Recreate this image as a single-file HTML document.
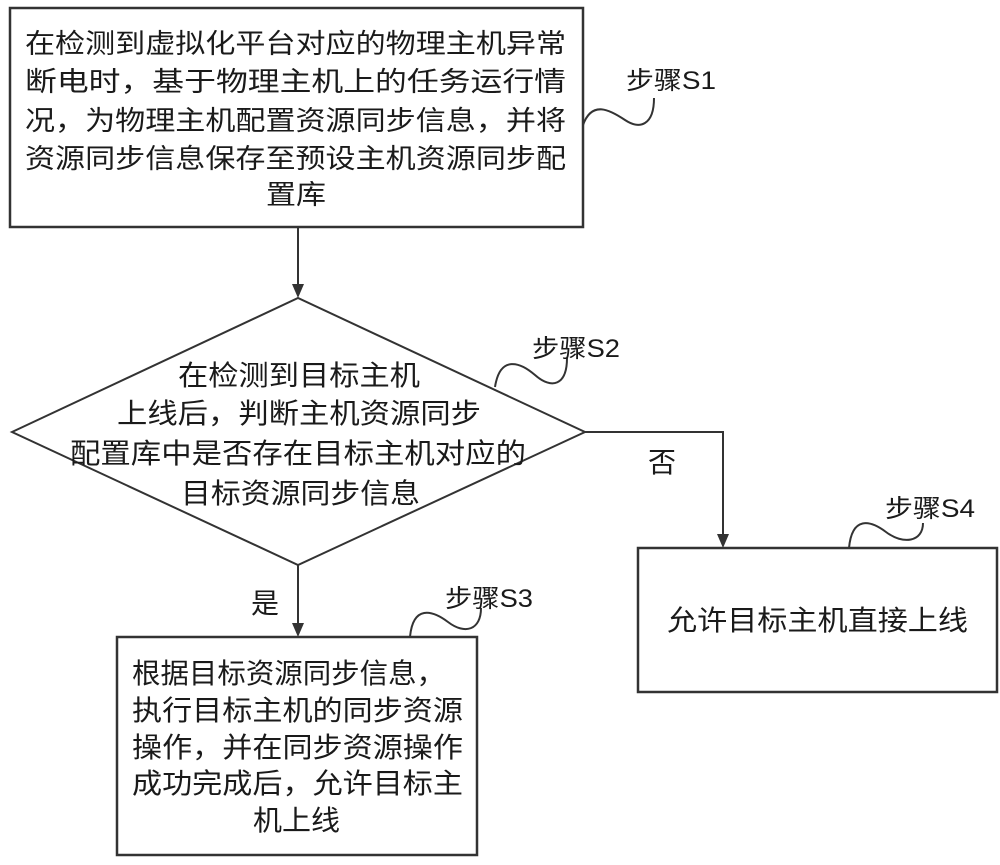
<!DOCTYPE html>
<html><head><meta charset="utf-8"><style>
html,body{margin:0;padding:0;background:#fff;}
svg{display:block;}
text{font-family:"Liberation Sans","Noto Sans CJK SC",sans-serif;fill:#1a1a1a;}
</style></head><body>
<svg width="1000" height="865" viewBox="0 0 1000 865" xmlns="http://www.w3.org/2000/svg">
<g stroke="#333" stroke-width="2" fill="none">
<rect x="10" y="8" width="573" height="219" stroke-width="2.5"/>
<line x1="298" y1="227" x2="298" y2="285"/>
<polygon points="12,432 298,298 585,432 298,565"/>
<polyline points="585,432 723,432 723,534"/>
<line x1="298" y1="565" x2="298" y2="624"/>
<rect x="117" y="637" width="360" height="218" stroke-width="2.5"/>
<rect x="638" y="548" width="359" height="144" stroke-width="2.5"/>
<path d="M583,125 C592,100 610,110 625,120 C640,130 654,125 654,98"/>
<path d="M495,387 C500,355 520,362 535,375 C552,390 567,385 567,358"/>
<path d="M410,637 C413,605 432,610 448,622 C465,635 481,630 481,608"/>
<path d="M849,548 C852,516 870,520 886,532 C903,545 923,542 923,523"/>
</g>
<g fill="#333">
<polygon points="292,284 304,284 298,298"/>
<polygon points="717,534 729,534 723,548"/>
<polygon points="292,623 304,623 298,637"/>
</g>
<g font-size="27">
<text x="25" y="53" textLength="541" lengthAdjust="spacingAndGlyphs">在检测到虚拟化平台对应的物理主机异常</text>
<text x="25" y="91" textLength="541" lengthAdjust="spacingAndGlyphs">断电时，基于物理主机上的任务运行情</text>
<text x="25" y="130" textLength="541" lengthAdjust="spacingAndGlyphs">况，为物理主机配置资源同步信息，并将</text>
<text x="25" y="168" textLength="541" lengthAdjust="spacingAndGlyphs">资源同步信息保存至预设主机资源同步配</text>
<text x="266" y="204" textLength="60" lengthAdjust="spacingAndGlyphs">置库</text>
</g>
<g font-size="28">
<text x="178" y="385" textLength="242" lengthAdjust="spacingAndGlyphs">在检测到目标主机</text>
<text x="117" y="423" textLength="364" lengthAdjust="spacingAndGlyphs">上线后，判断主机资源同步</text>
<text x="70" y="463" textLength="456" lengthAdjust="spacingAndGlyphs">配置库中是否存在目标主机对应的</text>
<text x="181" y="503" textLength="239" lengthAdjust="spacingAndGlyphs">目标资源同步信息</text>
<text x="132" y="683" textLength="313" lengthAdjust="spacingAndGlyphs">根据目标资源同步信息，</text>
<text x="132" y="720" textLength="331" lengthAdjust="spacingAndGlyphs">执行目标主机的同步资源</text>
<text x="132" y="757" textLength="331" lengthAdjust="spacingAndGlyphs">操作，并在同步资源操作</text>
<text x="132" y="793" textLength="331" lengthAdjust="spacingAndGlyphs">成功完成后，允许目标主</text>
<text x="253" y="830" textLength="87" lengthAdjust="spacingAndGlyphs">机上线</text>
<text x="667" y="630" textLength="301" lengthAdjust="spacingAndGlyphs">允许目标主机直接上线</text>
<text x="648" y="472">否</text>
<text x="251" y="613">是</text>
</g>
<g font-size="25">
<text x="626" y="89" textLength="90" lengthAdjust="spacingAndGlyphs">步骤S1</text>
<text x="532" y="357" textLength="88" lengthAdjust="spacingAndGlyphs">步骤S2</text>
<text x="445" y="607" textLength="88" lengthAdjust="spacingAndGlyphs">步骤S3</text>
<text x="885" y="517" textLength="90" lengthAdjust="spacingAndGlyphs">步骤S4</text>
</g>
</svg>
</body></html>
